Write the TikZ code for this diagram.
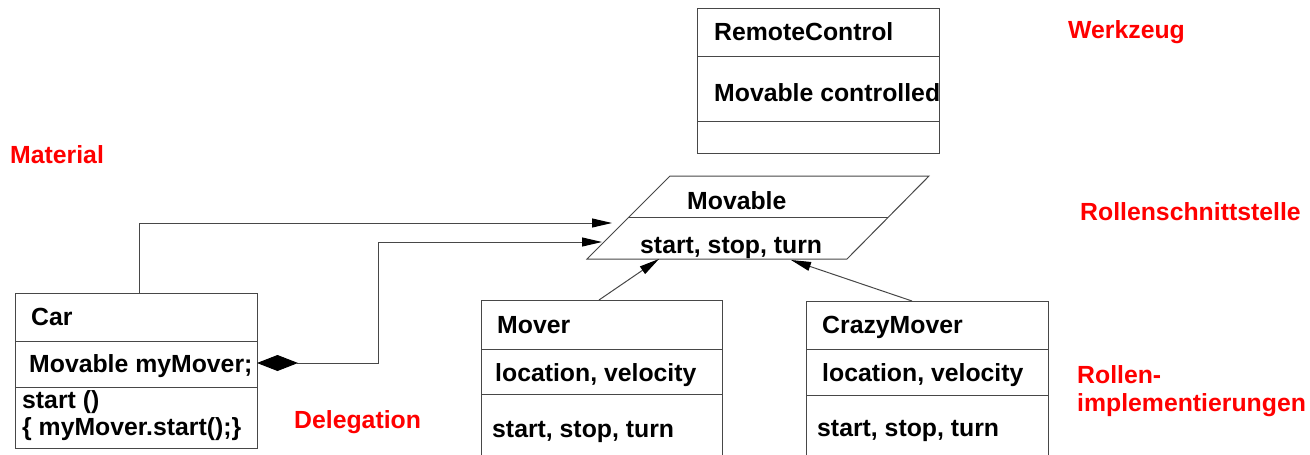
\documentclass[tikz,border=0pt]{standalone}
\usepackage{fontspec}
\setmainfont{Liberation Sans}
\usetikzlibrary{arrows.meta}
\tikzset{
  ln/.style={draw=black!72, line width=1pt},
  box/.style={ln, rectangle, inner sep=0pt, anchor=north west},
  lbl/.style={anchor=base west, inner sep=0pt, font=\fontsize{24.8}{28}\selectfont\bfseries},
  tag/.style={lbl, text=red},
  tri/.style={-{Triangle[length=20pt,width=9pt,black]}},
  dia/.style={{Diamond[length=41pt,width=16pt,black]}-{Triangle[length=20pt,width=9pt,black]}}
}
\begin{document}
\begin{tikzpicture}[x=1pt,y=1pt]
\useasboundingbox (0,0) rectangle (1310,-455);
% RemoteControl
\node[box, minimum width=242pt, minimum height=145pt] (rc) at (697,-8) {};
\draw[ln] (697,-56) -- (939,-56);
\draw[ln] (697,-121) -- (939,-121);
\node[lbl] (rcname) at (714,-40) {RemoteControl};
\node[lbl] (rcattr) at (714,-101) {Movable controlled};
% Movable parallelogram
\draw[ln] (670,-176) -- (929,-176) -- (847,-259) -- (587,-259) -- cycle;
\draw[ln] (629,-217) -- (888,-217);
\node[lbl] (mvname) at (687,-209) {Movable};
\node[lbl] (mvops) at (640,-253) {start, stop, turn};
% Car
\node[box, minimum width=242pt, minimum height=155pt] (car) at (15,-293) {};
\draw[ln] (15,-341) -- (257,-341);
\draw[ln] (15,-387) -- (257,-387);
\node[lbl] (carname) at (31,-325) {Car};
\node[lbl] (carattr) at (29,-372) {Movable myMover;};
\node[lbl] (carop1) at (22,-408) {start ()};
\node[lbl] (carop2) at (22,-435) {\{ myMover.start();\}};
% Mover
\node[box, minimum width=241pt, minimum height=160pt] (mover) at (481,-300) {};
\draw[ln] (481,-349) -- (722,-349);
\draw[ln] (481,-394) -- (722,-394);
\node[lbl] (movername) at (497,-333) {Mover};
\node[lbl] (moverattr) at (495,-381) {location, velocity};
\node[lbl] (moverops) at (492,-437) {start, stop, turn};
% CrazyMover
\node[box, minimum width=242pt, minimum height=160pt] (crazy) at (806,-301) {};
\draw[ln] (806,-349) -- (1048,-349);
\draw[ln] (806,-395) -- (1048,-395);
\node[lbl] (crazyname) at (822,-333) {CrazyMover};
\node[lbl] (crazyattr) at (822,-381) {location, velocity};
\node[lbl] (crazyops) at (817,-436) {start, stop, turn};
% Red labels
\node[tag] (werkzeug) at (1068,-38) {Werkzeug};
\node[tag] (material) at (10,-163) {Material};
\node[tag] (rollsch) at (1080,-220) {Rollenschnittstelle};
\node[tag] (rollimp1) at (1077,-383) {Rollen-};
\node[tag] (rollimp2) at (1077,-411) {implementierungen};
\node[tag] (deleg) at (294,-428) {Delegation};
% connector points
\coordinate (tipA) at (612,-223);
\coordinate (tipB) at (602,-242);
\coordinate (tipC) at (659,-259);
\coordinate (tipD) at (791,-260);
\coordinate (carUp) at (139,-293);
\coordinate (carRight) at (257,-363);
\coordinate (moverUp) at (599,-300);
\coordinate (crazyUp) at (912,-301);
% connectors
\draw[ln, tri] (carUp) |- (tipA);
\draw[ln, dia] (carRight) -- ++(121,0) |- (tipB);
\draw[ln, tri] (moverUp) -- (tipC);
\draw[ln, tri] (crazyUp) -- (tipD);
\end{tikzpicture}
\end{document}
